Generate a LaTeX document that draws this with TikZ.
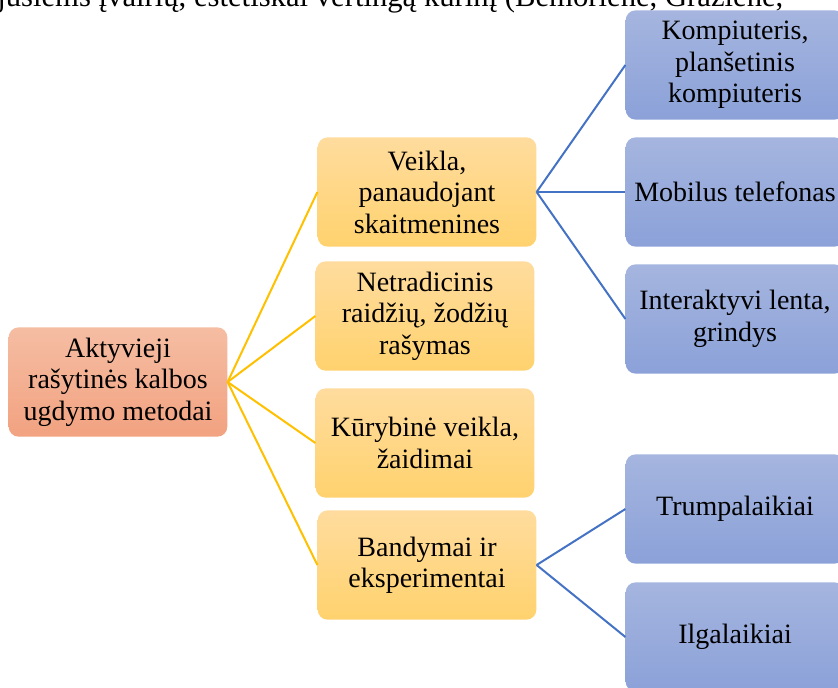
\documentclass[tikz,border=0pt]{standalone}
\usepackage{fontspec}
\setmainfont{Liberation Serif}
\definecolor{rootTop}{HTML}{F5BDA3}
\definecolor{rootBot}{HTML}{F2A280}
\definecolor{methTop}{HTML}{FFDC9E}
\definecolor{methBot}{HTML}{FFD26E}
\definecolor{toolTop}{HTML}{A5B5DF}
\definecolor{toolBot}{HTML}{8BA1D8}
\definecolor{branchYellow}{HTML}{FFC000}
\definecolor{twigBlue}{HTML}{4472C4}
\begin{document}
\begin{tikzpicture}[
  x=0.75pt,y=-0.75pt,every node/.style={font=\fontsize{21}{23.6}\selectfont},
  box/.style={rectangle,rounded corners=7.5pt,align=center,inner sep=2pt,
    minimum width=164pt,minimum height=82pt},
  rootbox/.style={box,top color=rootTop,bottom color=rootBot},
  methodbox/.style={box,top color=methTop,bottom color=methBot},
  toolbox/.style={box,top color=toolTop,bottom color=toolBot},
  branch/.style={line width=1.5pt,draw=branchYellow},
  twig/.style={line width=1.5pt,draw=twigBlue}]
  \useasboundingbox (0,0) rectangle (838,688);
  \clip (0,0) rectangle (838,688);
  % cut-off line of the running text above the figure
  \node[anchor=base west,inner sep=0pt,font=\fontsize{23}{26}\selectfont]
    (quote) at (-3,7)
    {jusiems įvairių, estetiškai vertingą kūrinį (Bemorienė, Gražienė,};

  \node[rootbox] (root) at (118,382) {Aktyvieji\\rašytinės kalbos\\ugdymo metodai};

  % methods: name / x / y / text
  \foreach \n/\x/\y/\t in {
      digi/427/192/{Veikla,\\panaudojant\\skaitmenines},
      write/425/316/{Netradicinis\\raidžių, žodžių\\rašymas},
      play/425/443/{Kūrybinė veikla,\\žaidimai},
      exper/427/565/{Bandymai ir\\eksperimentai}} {
    \node[methodbox] (\n) at (\x,\y) {\t};
    \draw[branch] (root.east) -- (\n.west);
  }

  % tools for the digital activity
  \foreach \n/\y/\t in {
      pc/65/{Kompiuteris,\\planšetinis\\kompiuteris},
      phone/192/{Mobilus telefonas},
      board/319/{Interaktyvi lenta,\\grindys}} {
    \node[toolbox] (\n) at (735,\y) {\t};
    \draw[twig] (digi.east) -- (\n.west);
  }

  % duration of the experiments
  \foreach \n/\y/\t in {short/509/Trumpalaikiai,long/637/Ilgalaikiai} {
    \node[toolbox] (\n) at (735,\y) {\t};
    \draw[twig] (exper.east) -- (\n.west);
  }
\end{tikzpicture}
\end{document}
